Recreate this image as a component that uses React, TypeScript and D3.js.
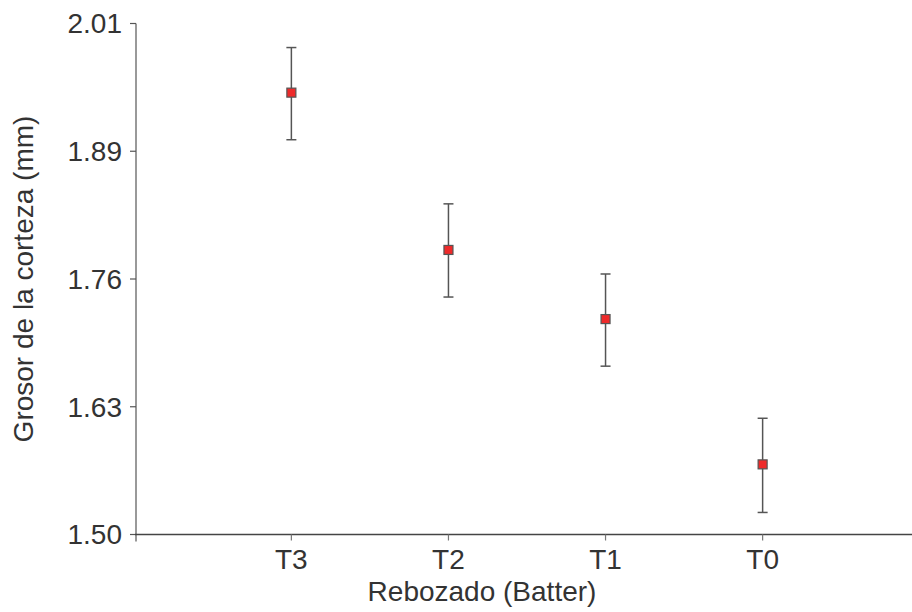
import React from "react";
import * as d3 from "d3";

const categories = ["T3", "T2", "T1", "T0"];
const means = [1.941, 1.784, 1.715, 1.570];
const upper = [1.986, 1.830, 1.760, 1.616];
const lower = [1.894, 1.737, 1.668, 1.522];
const yTickValues = [1.5, 1.6275, 1.755, 1.8825, 2.01];
const yTickLabels = ["1.50", "1.63", "1.76", "1.89", "2.01"];
const xTitle = "Rebozado (Batter)";
const yTitle = "Grosor de la corteza (mm)";

const W = 912;
const H = 612;
const left = 136;
const right = 912;
const top = 23.5;
const bottom = 534.5;
const font = "'Liberation Sans', Arial, sans-serif";
const textColor = "#333";

export default function App() {
  const y = d3.scaleLinear().domain([1.5, 2.01]).range([bottom, top]);
  const x = d3.scalePoint<string>().domain(categories).range([left + 3, right + 3]).padding(0.97);

  return (
    <svg width={W} height={H} style={{ position: "absolute", left: 0, top: 0, background: "#fff" }}>
      {/* Y axis */}
      <line x1={left} x2={left} y1={top} y2={bottom + 7} stroke="#777" strokeWidth={1.5} />
      {yTickValues.map((v, i) => (
        <g key={i}>
          <line x1={left - 6} x2={left} y1={y(v)} y2={y(v)} stroke="#555" strokeWidth={1.2} />
          <text x={left - 14} y={y(v)} dy="0.35em" textAnchor="end" fontFamily={font} fontSize={28} fill={textColor}>
            {yTickLabels[i]}
          </text>
        </g>
      ))}
      {/* X axis */}
      <line x1={left - 1} x2={right} y1={bottom} y2={bottom} stroke="#444" strokeWidth={1.5} />
      {categories.map((c) => (
        <g key={c}>
          <line x1={x(c)!} x2={x(c)!} y1={bottom} y2={bottom + 6} stroke="#777" strokeWidth={1.2} />
          <text x={x(c)!} y={569} textAnchor="middle" fontFamily={font} fontSize={28} fill={textColor}>
            {c}
          </text>
        </g>
      ))}
      <text x={(left + right) / 2 - 42} y={601} textAnchor="middle" fontFamily={font} fontSize={28} fill={textColor}>
        {xTitle}
      </text>
      <text
        transform={`translate(33, ${(top + bottom) / 2}) rotate(-90)`}
        textAnchor="middle"
        fontFamily={font}
        fontSize={28}
        fill={textColor}
      >
        {yTitle}
      </text>
      {/* Error bars and points */}
      {categories.map((c, i) => {
        const cx = x(c)!;
        return (
          <g key={c}>
            <line x1={cx} x2={cx} y1={y(upper[i])} y2={y(lower[i])} stroke="#555" strokeWidth={1.5} />
            <line x1={cx - 5} x2={cx + 5} y1={y(upper[i])} y2={y(upper[i])} stroke="#555" strokeWidth={1.5} />
            <line x1={cx - 5} x2={cx + 5} y1={y(lower[i])} y2={y(lower[i])} stroke="#555" strokeWidth={1.5} />
            <rect x={cx - 4.5} y={y(means[i]) - 4.5} width={9} height={9} fill="#ee2a2a" stroke="#555" strokeWidth={1.2} />
          </g>
        );
      })}
    </svg>
  );
}
